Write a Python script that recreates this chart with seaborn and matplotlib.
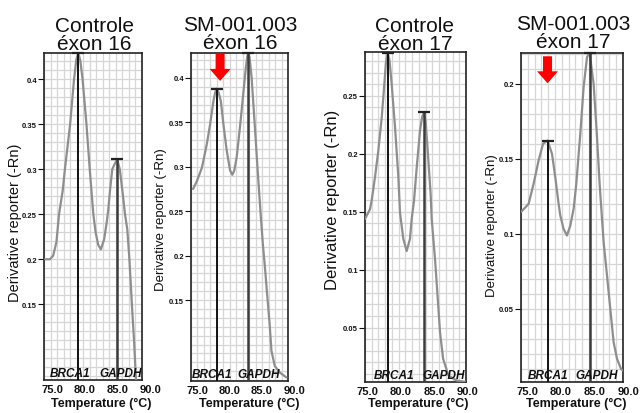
import matplotlib
matplotlib.use("Agg")
import matplotlib.pyplot as plt
import matplotlib.transforms as mtransforms
from matplotlib.ticker import MultipleLocator
import seaborn as sns

W, H = 643, 414

# melt curves: temperature (°C) vs derivative reporter (-Rn)
c16_temp = [75.15, 75.9, 76.4, 76.9, 77.3, 77.86, 78.2, 78.6, 79.0, 79.6, 79.95, 80.25,
            80.55, 80.9, 81.5, 82.0, 82.55, 82.9, 83.3, 83.7, 84.2, 84.6, 84.85, 85.1,
            85.45, 85.8, 86.2, 86.6, 87.0, 87.4, 87.75, 88.07, 88.3, 88.5, 88.8, 89.05, 89.3]
c16_rn = [0.200, 0.200, 0.204, 0.219, 0.250, 0.276, 0.300, 0.325, 0.350, 0.400, 0.422, 0.429,
          0.421, 0.400, 0.350, 0.300, 0.250, 0.230, 0.216, 0.211, 0.222, 0.241, 0.256, 0.276,
          0.300, 0.3055, 0.311, 0.300, 0.276, 0.250, 0.233, 0.200, 0.170, 0.144, 0.107, 0.070, 0.040]

s16_temp = [75.31, 75.92, 76.69, 77.46, 77.96, 78.47, 78.75, 78.99, 79.25, 79.61, 80.01, 80.53,
            81.04, 81.39, 81.7, 82.07, 82.57, 83.08, 83.49, 83.7, 83.85, 84.05, 84.37, 84.88,
            85.38, 85.75, 86.1, 86.42, 86.77, 87.18, 87.44, 87.95, 88.72, 89.75]
s16_rn = [0.275, 0.284, 0.299, 0.326, 0.348, 0.374, 0.384, 0.388, 0.384, 0.374, 0.348, 0.318,
          0.296, 0.291, 0.296, 0.311, 0.3445, 0.382, 0.412, 0.424, 0.428, 0.423, 0.401, 0.3445,
          0.288, 0.249, 0.214, 0.188, 0.157, 0.121, 0.093, 0.076, 0.0686, 0.063]

c17_temp = [75.0, 75.74, 75.99, 76.49, 76.98, 77.48, 77.87, 78.1, 78.37, 78.65, 78.96, 79.46,
            79.95, 80.2, 80.69, 81.19, 81.68, 81.94, 82.28, 82.68, 83.17, 83.5, 83.76, 84.0,
            84.25, 84.75, 84.9, 85.4, 85.74, 86.14, 86.6, 87.4, 88.6, 90.0]
c17_rn = [0.1437, 0.152, 0.1595, 0.180, 0.2026, 0.231, 0.260, 0.278, 0.287, 0.280, 0.260, 0.223,
          0.180, 0.149, 0.1265, 0.116, 0.1265, 0.144, 0.1595, 0.188, 0.220, 0.232, 0.2357, 0.228,
          0.208, 0.165, 0.144, 0.109, 0.0805, 0.046, 0.023, 0.0086, 0.0043, 0.003]

s17_temp = [75.04, 76.12, 76.85, 77.59, 78.24, 78.91, 79.56, 80.04, 80.53, 80.78, 81.26, 81.76,
            82.25, 82.74, 83.13, 83.72, 84.21, 84.71, 85.09, 85.68, 86.18, 86.56, 87.15, 87.65,
            88.13, 88.62, 89.12, 89.71, 90.0]
s17_rn = [0.1147, 0.120, 0.1333, 0.1489, 0.160, 0.1622, 0.1533, 0.1378, 0.120, 0.1122, 0.1033, 0.0989,
          0.1055, 0.1167, 0.1333, 0.1667, 0.1978, 0.2178, 0.2205, 0.200, 0.1645, 0.1333, 0.0945, 0.0722,
          0.050, 0.0278, 0.0167, 0.010, 0.0089]

# melting peaks (BRCA1, GAPDH)
c16_tm, c16_tm_rn = [80.25, 86.2], [0.429, 0.311]
s16_tm, s16_tm_rn = [78.99, 83.85], [0.388, 0.428]
c17_tm, c17_tm_rn = [78.37, 83.76], [0.287, 0.2357]
s17_tm, s17_tm_rn = [78.91, 85.09], [0.1622, 0.2205]

genes = ["BRCA1", "GAPDH"]
x_ticks = [75, 80, 85, 90]
x_tick_labels = ["75.0", "80.0", "85.0", "90.0"]
yticks_16 = [0.15, 0.2, 0.25, 0.3, 0.35, 0.4]
yticks_c17 = [0.05, 0.1, 0.15, 0.2, 0.25]
yticks_s17 = [0.05, 0.1, 0.15, 0.2]

panels = [
    dict(temp=c16_temp, rn=c16_rn, tm=c16_tm, tm_rn=c16_tm_rn, yticks=yticks_16,
         title="Controle\néxon 16", title_x=94, title_y=50,
         box=(44, 54, 142, 381), ylim=(0.066, 0.429), gene_x=(79.0, 86.8),
         ylab=(15, 223, 10.5), xlab_x=101, xshift=8, arrow=None),
    dict(temp=s16_temp, rn=s16_rn, tm=s16_tm, tm_rn=s16_tm_rn, yticks=yticks_16,
         title="SM-001.003\néxon 16", title_x=240.5, title_y=49,
         box=(191, 54, 288, 382), ylim=(0.059, 0.428), gene_x=(78.3, 85.4),
         ylab=(161, 220, 9.5), xlab_x=249, xshift=6, arrow=(79.5, 0.915)),
    dict(temp=c17_temp, rn=c17_rn, tm=c17_tm, tm_rn=c17_tm_rn, yticks=yticks_c17,
         title="Controle\néxon 17", title_x=415, title_y=50,
         box=(365, 53, 466, 383), ylim=(0.003, 0.2877), gene_x=(79.3, 86.7),
         ylab=(333, 200, 12), xlab_x=418, xshift=2, arrow=None),
    dict(temp=s17_temp, rn=s17_rn, tm=s17_tm, tm_rn=s17_tm_rn, yticks=yticks_s17,
         title="SM-001.003\néxon 17", title_x=573.5, title_y=48,
         box=(521, 54, 623, 383), ylim=(0.0013, 0.2205), gene_x=(79.0, 86.1),
         ylab=(492, 226, 9.5), xlab_x=576, xshift=6, arrow=(78.9, 0.908)),
]

sns.set_theme(style="white")
plt.rcParams["font.family"] = ["Liberation Sans", "DejaVu Sans"]

fig = plt.figure(figsize=(W / 100, H / 100), dpi=100)

for p in panels:
    l, t, r, b = p["box"]
    ax = fig.add_axes([l / W, 1 - b / H, (r - l) / W, (b - t) / H])
    ax.set_facecolor("white")

    sns.lineplot(x=p["temp"], y=p["rn"], ax=ax, color="#8e8e8e", lw=1.6, zorder=3)

    # peak markers: vertical line from the bottom with a cap at the peak
    ymin = p["ylim"][0]
    ax.vlines(p["tm"][0], ymin, p["tm_rn"][0], color="#111111", lw=1.4, zorder=4)
    ax.vlines(p["tm"][1], ymin, p["tm_rn"][1], color="#3c3c3c", lw=1.8, zorder=4)
    ax.plot(p["tm"], p["tm_rn"], ls="none", marker="_", ms=9, mew=1.6,
            color="#222222", zorder=5, clip_on=False)

    for gx, g in zip(p["gene_x"], genes):
        ax.text(gx, 0.012, g, transform=ax.get_xaxis_transform(), ha="center",
                va="baseline", fontsize=8.5, fontweight="bold", fontstyle="italic",
                color="#111111", zorder=6)

    if p["arrow"]:
        ax.annotate("", xy=p["arrow"], xycoords=("data", "axes fraction"),
                    xytext=(0, 27), textcoords="offset pixels",
                    arrowprops=dict(arrowstyle="simple,head_length=0.86,head_width=1.51,tail_width=0.65",
                                    mutation_scale=10, color="#ff0000", lw=0,
                                    shrinkA=0, shrinkB=0), zorder=7)

    ax.set_xlim(75, 90)
    ax.set_ylim(*p["ylim"])
    ax.set_xticks(x_ticks)
    ax.set_xticklabels(x_tick_labels, fontsize=8, fontweight="bold")
    ax.set_yticks(p["yticks"])
    ax.set_yticklabels([f"{v:g}" for v in p["yticks"]], fontsize=5.5, fontweight="bold")
    ax.xaxis.set_minor_locator(MultipleLocator(1))
    ax.yaxis.set_minor_locator(MultipleLocator(0.01))
    ax.grid(which="both", color="#d6d6d6", lw=0.9)
    ax.set_axisbelow(True)
    ax.tick_params(axis="x", which="major", length=0, pad=3, colors="#111111")
    ax.tick_params(axis="y", which="major", length=4, width=0.8, pad=1,
                   left=True, colors="#111111")
    ax.tick_params(which="minor", length=0)
    shift = mtransforms.ScaledTranslation(p["xshift"] / 100, 0, fig.dpi_scale_trans)
    for lab in ax.get_xticklabels():
        lab.set_transform(lab.get_transform() + shift)
    for s in ax.spines.values():
        s.set_color("#222222")
        s.set_linewidth(1.2)
    ax.set_xlabel("")
    ax.set_ylabel("")

    # titles and axis labels placed in figure pixels
    fig.text(p["title_x"] / W, 1 - p["title_y"] / H, p["title"], ha="center",
             va="baseline", multialignment="center", linespacing=0.95,
             fontsize=15, color="#111111")
    yx, yy, ys = p["ylab"]
    fig.text(yx / W, 1 - yy / H, "Derivative reporter (-Rn)", rotation=90,
             ha="center", va="center", fontsize=ys, color="#111111")
    fig.text(p["xlab_x"] / W, 1 - 398 / H, "Temperature (°C)", ha="center",
             va="top", fontsize=9, fontweight="bold", color="#111111")

fig.savefig("out.png", dpi=100)
